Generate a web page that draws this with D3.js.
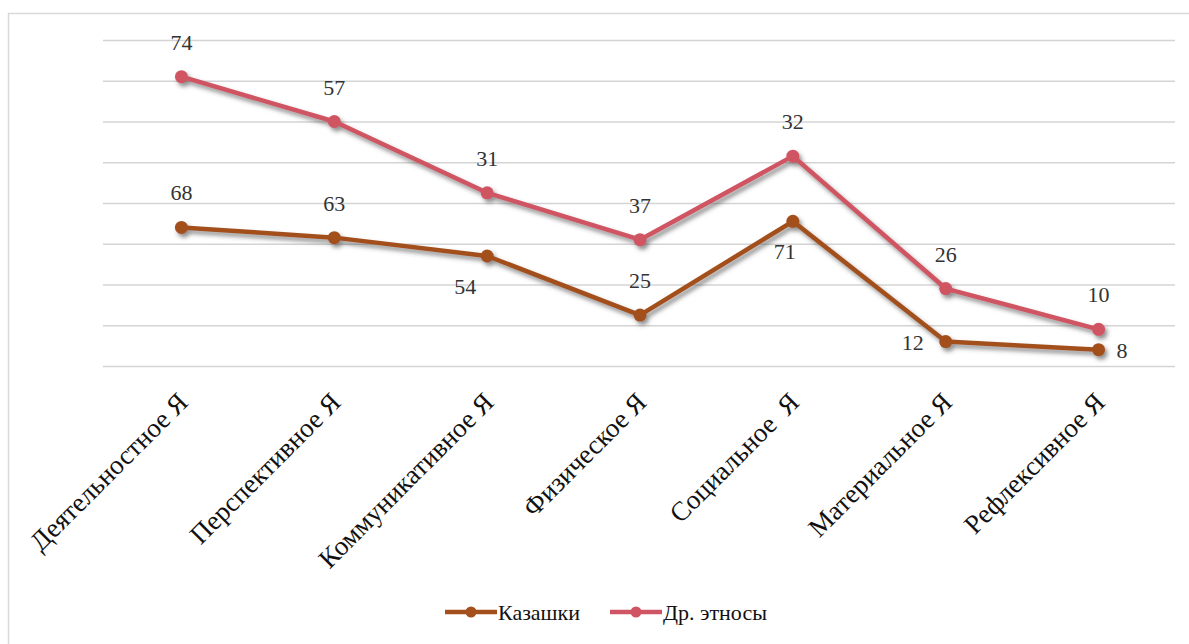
<!DOCTYPE html>
<html>
<head>
<meta charset="utf-8">
<script src="https://cdn.jsdelivr.net/npm/d3@7"></script>
<style>
  html, body { margin: 0; padding: 0; background: #fff; }
  svg { display: block; }
</style>
</head>
<body>
<svg id="chart" width="1189" height="644"></svg>
<script>
// ---- data ----
const categories = ["Деятельностное Я", "Перспективное Я", "Коммуникативное Я", "Физическое Я", "Социальное  Я", "Материальное Я", "Рефлексивное Я"];
const seriesNames = ["Казашки", "Др. этносы"];
const kazakhValues = [68, 63, 54, 25, 71, 12, 8];
const otherValues = [74, 57, 31, 37, 32, 26, 10];
const yTickValues = [0, 20, 40, 60, 80, 100, 120, 140, 160];
// data label placement per point (Excel-style manual positions)
const kazakhLabelPlacement = ["top", "top", "bottomleft", "top", "bottom", "left", "right"];
const otherLabelPlacement = ["top", "top", "top", "top", "top", "top", "top"];

const colors = ["#A3501D", "#D05564"];
const FONT = "Liberation Serif";

// ---- layout ----
const svg = d3.select("#chart");
const W = 1189, H = 644;
const plot = { left: 105, right: 1175, top: 40, bottom: 366 };

// frame
svg.append("rect")
  .attr("x", 8.5).attr("y", 13.5)
  .attr("width", W + 20).attr("height", H + 20)
  .attr("fill", "#fff").attr("stroke", "#d9d9d9").attr("stroke-width", 1.5);

const defs = svg.append("defs");
const f = defs.append("filter").attr("id", "shadow")
  .attr("x", "-10%").attr("y", "-10%").attr("width", "130%").attr("height", "140%");
f.append("feDropShadow").attr("dx", 2.5).attr("dy", 3.5).attr("stdDeviation", 2.2)
  .attr("flood-color", "#444").attr("flood-opacity", 0.6);

const rows = categories.map((c, i) => ({ cat: c, k: kazakhValues[i], o: otherValues[i] }));
const stack = d3.stack().keys(["k", "o"])(rows);

const x = d3.scaleBand().domain(categories).range([plot.left, plot.right]);
const y = d3.scaleLinear().domain([0, 160]).range([plot.bottom, plot.top]);
const cx = c => x(c) + x.bandwidth() / 2;

// gridlines
const yAxis = d3.axisLeft(y).tickValues(yTickValues).tickSize(-(plot.right - plot.left + 2)).tickFormat("");
const gy = svg.append("g").attr("transform", `translate(${plot.left - 2},0)`).call(yAxis);
gy.select(".domain").remove();
gy.selectAll(".tick line").attr("stroke", "#d4d4d4").attr("stroke-width", 1.5);

// x axis labels
const xAxis = d3.axisBottom(x).tickSize(0).tickFormat(d => d);
const gx = svg.append("g").attr("transform", `translate(0,${plot.bottom})`).call(xAxis);
gx.select(".domain").remove();
gx.attr("font-family", FONT);
gx.selectAll(".tick text")
  .attr("text-anchor", "end")
  .attr("font-family", FONT)
  .attr("font-size", 27)
  .attr("fill", "#111")
  .attr("y", 0).attr("dy", 0)
  .attr("transform", "translate(8,38) rotate(-45)")
  .style("white-space", "pre");

// lines
const line = d3.line().x((d, i) => cx(categories[i])).y(d => y(d[1]));
const layer = svg.append("g").attr("filter", "url(#shadow)");
stack.forEach((s, si) => {
  layer.append("path")
    .datum(s)
    .attr("d", line)
    .attr("fill", "none")
    .attr("stroke", colors[si])
    .attr("stroke-width", 4.5)
    .attr("stroke-linejoin", "round");
  layer.selectAll(null).data(s).enter().append("circle")
    .attr("cx", (d, i) => cx(categories[i]))
    .attr("cy", d => y(d[1]))
    .attr("r", 6.5)
    .attr("fill", colors[si]);
});

// data labels
const placement = [kazakhLabelPlacement, otherLabelPlacement];
const values = [kazakhValues, otherValues];
const offs = {
  top: { dx: 0, dy: -27, anchor: "middle" },
  bottom: { dx: -8, dy: 38, anchor: "middle" },
  bottomleft: { dx: -22, dy: 38, anchor: "middle" },
  left: { dx: -22, dy: 8, anchor: "end" },
  right: { dx: 18, dy: 8, anchor: "start" }
};
stack.forEach((s, si) => {
  svg.append("g").selectAll("text").data(s).enter().append("text")
    .attr("x", (d, i) => cx(categories[i]) + offs[placement[si][i]].dx)
    .attr("y", (d, i) => y(d[1]) + offs[placement[si][i]].dy)
    .attr("text-anchor", (d, i) => offs[placement[si][i]].anchor)
    .attr("font-family", FONT)
    .attr("font-size", 22)
    .attr("fill", "#333")
    .text((d, i) => values[si][i]);
});

// legend
const legend = svg.append("g");
const legendX = [445, 610];
seriesNames.forEach((n, i) => {
  const g = legend.append("g").attr("transform", `translate(${legendX[i]},612)`);
  g.append("line").attr("x1", 0).attr("x2", 52).attr("y1", 0).attr("y2", 0)
    .attr("stroke", colors[i]).attr("stroke-width", 4.5);
  g.append("circle").attr("cx", 26).attr("cy", 0).attr("r", 5.5).attr("fill", colors[i]);
  g.append("text").attr("x", 53).attr("y", 8)
    .attr("font-family", FONT).attr("font-size", 22).attr("fill", "#111").text(n);
});
</script>
</body>
</html>
